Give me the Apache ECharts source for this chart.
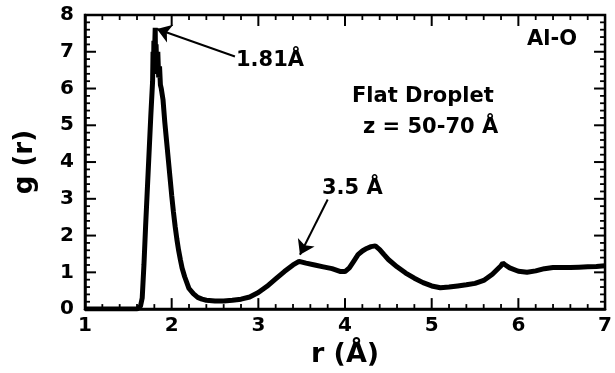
<!DOCTYPE html>
<html>
<head>
<meta charset="utf-8">
<script src="https://cdn.jsdelivr.net/npm/echarts@6/dist/echarts.min.js"></script>
<style>
    html, body { margin: 0; padding: 0; background: #fff; }
    #main { width: 615px; height: 373px; }
</style>
</head>
<body>
<div id="main"></div>
<script>
    // r (Å) and g(r)
    var rVals = [1.00, 1.60, 1.62, 1.64, 1.66, 1.68, 1.70, 1.72, 1.74, 1.76, 1.78, 1.785, 1.79, 1.795, 1.80, 1.805, 1.81, 1.815, 1.82, 1.83,
        1.84, 1.85, 1.86, 1.87, 1.88, 1.90, 1.92, 1.94, 1.96, 1.98, 2.00, 2.02, 2.04, 2.06, 2.08, 2.10, 2.12, 2.15, 2.20, 2.25,
        2.30, 2.35, 2.40, 2.50, 2.60, 2.70, 2.80, 2.90, 3.00, 3.10, 3.20, 3.30, 3.40, 3.47, 3.55, 3.65, 3.75, 3.85, 3.95, 4.00,
        4.05, 4.10, 4.15, 4.20, 4.25, 4.30, 4.35, 4.40, 4.45, 4.50, 4.60, 4.70, 4.80, 4.90, 5.00, 5.10, 5.20, 5.30, 5.40, 5.50,
        5.60, 5.70, 5.80, 5.82, 5.85, 5.90, 6.00, 6.10, 6.20, 6.30, 6.40, 6.50, 6.60, 6.70, 6.80, 6.90, 7.00];
    var gVals = [0.00, 0.00, 0.03, 0.08, 0.30, 1.20, 2.30, 3.30, 4.30, 5.30, 6.20, 7.00, 6.40, 7.30, 6.60, 7.20, 7.65, 6.50, 7.20, 6.40,
        7.00, 6.30, 6.60, 6.10, 6.00, 5.70, 5.10, 4.60, 4.10, 3.60, 3.10, 2.65, 2.25, 1.90, 1.60, 1.35, 1.12, 0.88, 0.56, 0.42,
        0.32, 0.27, 0.24, 0.22, 0.22, 0.24, 0.27, 0.33, 0.45, 0.62, 0.82, 1.02, 1.20, 1.30, 1.25, 1.20, 1.15, 1.10, 1.02, 1.02,
        1.12, 1.30, 1.48, 1.58, 1.65, 1.70, 1.72, 1.62, 1.48, 1.35, 1.15, 0.98, 0.84, 0.72, 0.63, 0.58, 0.60, 0.63, 0.66, 0.70,
        0.78, 0.95, 1.18, 1.25, 1.20, 1.12, 1.03, 1.00, 1.04, 1.10, 1.13, 1.13, 1.13, 1.14, 1.15, 1.16, 1.18];
    var xTickLabels = ['1', '2', '3', '4', '5', '6', '7'];
    var yTickLabels = ['0', '1', '2', '3', '4', '5', '6', '7', '8'];
    var minorPerMajor = 5;

    var font = 'DejaVu Sans';
    var black = '#000';

    var seriesData = rVals.map(function (r, i) { return [r, gVals[i]]; });

    // tick marks on all four sides: [axis (0 = x, 1 = y), value, isMajor]
    var tickData = [];
    [[0, xTickLabels], [1, yTickLabels]].forEach(function (item) {
        var labels = item[1];
        var start = Number(labels[0]);
        for (var i = 0; i < labels.length; i++) {
            for (var k = 0; k < minorPerMajor; k++) {
                if (i === labels.length - 1 && k > 0) break;
                tickData.push([item[0], start + i + k / minorPerMajor, k === 0 ? 1 : 0]);
            }
        }
    });

    function renderTick(params, api) {
        var cs = params.coordSys;
        var isY = api.value(0) === 1;
        var v = api.value(1);
        var len = api.value(2) ? 11 : 5;
        var w = api.value(2) ? 2 : 1.8;
        var shapes;
        if (!isY) {
            var px = api.coord([v, 0])[0];
            shapes = [
                { x1: px, y1: cs.y + cs.height, x2: px, y2: cs.y + cs.height - len },
                { x1: px, y1: cs.y, x2: px, y2: cs.y + len }
            ];
        } else {
            var py = api.coord([1, v])[1];
            shapes = [
                { x1: cs.x, y1: py, x2: cs.x + len, y2: py },
                { x1: cs.x + cs.width, y1: py, x2: cs.x + cs.width - len, y2: py }
            ];
        }
        return {
            type: 'group',
            children: shapes.map(function (s) {
                return { type: 'line', shape: s, style: { stroke: black, lineWidth: w } };
            })
        };
    }

    function makeAxis(labels, min, name, gap, nameSize, margin) {
        return {
            type: 'value',
            min: min,
            max: min + labels.length - 1,
            interval: 1,
            axisLine: { show: true, onZero: false, lineStyle: { color: black, width: 2.5 } },
            axisTick: { show: false },
            splitLine: { show: false },
            axisLabel: {
                color: black,
                fontFamily: font,
                fontWeight: 'bold',
                fontSize: 20,
                margin: margin,
                formatter: function (v) { return labels[Math.round(v - min)]; }
            },
            name: name,
            nameLocation: 'middle',
            nameGap: gap,
            nameTextStyle: { color: black, fontFamily: font, fontWeight: 'bold', fontSize: nameSize }
        };
    }

    var chart = echarts.init(document.getElementById('main'));

    var textStyle = { fill: black, fontFamily: font, fontWeight: 'bold', fontSize: 21 };
    function label(txt, x, y) {
        return { type: 'text', left: x, top: y, style: Object.assign({ text: txt }, textStyle) };
    }

    chart.setOption({
        animation: false,
        grid: { left: 85, right: 9, top: 15, bottom: 60, show: true, borderColor: black, borderWidth: 2.5, backgroundColor: 'transparent' },
        xAxis: makeAxis(xTickLabels, 1, 'r (Å)', 30, 27, 7),
        yAxis: makeAxis(yTickLabels, 0, 'g (r)', 47, 26, 11),
        series: [{
            type: 'line',
            data: seriesData,
            showSymbol: false,
            lineStyle: { color: black, width: 5 },
            markLine: {
                silent: true,
                symbol: ['none', 'arrow'],
                symbolSize: 14,
                label: { show: false },
                lineStyle: { color: black, width: 2, type: 'solid' },
                data: [
                    [{ coord: [2.73, 6.87] }, { coord: [1.83, 7.62] }],
                    [{ coord: [3.80, 2.98] }, { coord: [3.48, 1.48] }]
                ]
            }
        }, {
            type: 'custom',
            silent: true,
            z: 5,
            encode: { x: 1, y: 1 },
            data: tickData,
            renderItem: renderTick
        }],
        graphic: [
            label('1.81Å', 236, 50),
            label('3.5 Å', 322, 178),
            label('Al-O', 527, 29),
            label('Flat Droplet', 352, 86),
            label('z = 50-70 Å', 363, 117)
        ]
    });
</script>
</body>
</html>
